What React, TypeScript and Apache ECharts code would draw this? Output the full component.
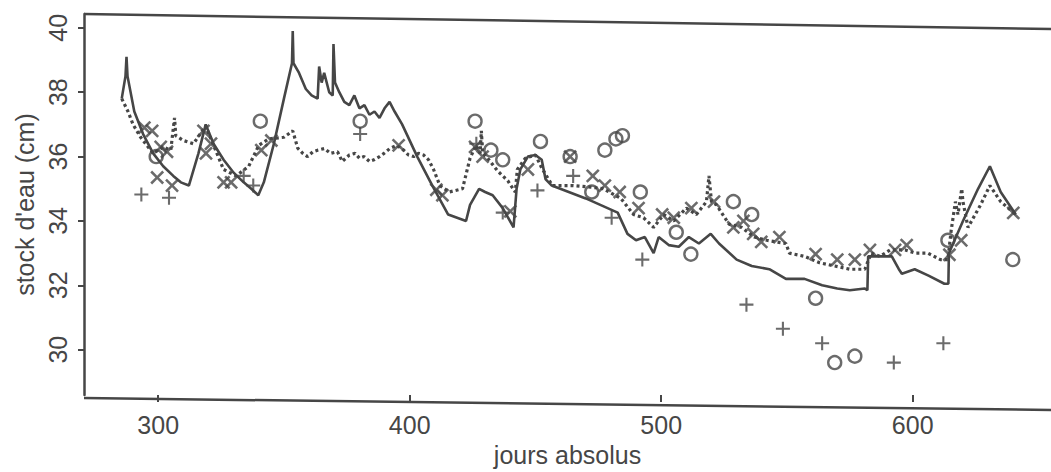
import React, { useEffect, useRef } from "react";
import * as echarts from "echarts";

// Axis ticks
const xTicks = [300, 400, 500, 600];
const yTicks = [30, 32, 34, 36, 38, 40];

// Simulated water stock, model A (solid) — [day, cm]
const solidLine: [number, number][] = [
  [285.5, 37.8], [287.0, 38.5], [287.4, 39.1], [287.8, 38.5], [290.5, 37.4], [294, 36.7],
  [298, 36.1], [302, 35.7], [306, 35.4], [309, 35.2], [312.2, 35.1], [316, 36.1], [318.9, 37.0],
  [322, 36.4], [326, 35.9], [330, 35.5], [334, 35.2], [337, 35.0], [339.8, 34.8], [342, 35.2],
  [346, 36.4], [350, 37.8], [353.2, 38.9], [353.5, 39.9], [353.8, 38.9], [356, 38.6],
  [358.7, 38.1], [361, 37.9], [363.4, 37.8], [364, 38.8], [365, 38.3], [366, 38.6], [368, 38.0],
  [369.4, 37.9], [369.7, 39.5], [370.3, 38.3], [372, 38.0], [374, 37.7], [376, 37.6], [378, 37.9],
  [380, 37.5], [382, 37.6], [384, 37.3], [386, 37.4], [388, 37.2], [390, 37.5], [392, 37.7],
  [394, 37.4], [397, 37.0], [403, 36.0], [409, 35.1], [415.3, 34.2], [422.4, 34.0], [424, 34.5],
  [427.6, 35.0], [430, 34.9], [433, 34.8], [437, 34.4], [441.3, 33.8], [442.5, 35.0], [444, 35.6],
  [447, 36.0], [450, 36.05], [452.5, 35.9], [454, 35.3], [456.5, 35.1], [470, 34.7],
  [482.7, 34.26], [486.6, 33.6], [490, 33.4], [493.5, 33.5], [497, 33.0], [499, 33.5],
  [503, 33.25], [507, 33.2], [511, 33.5], [515, 33.3], [519.7, 33.6], [523, 33.3], [530, 32.8],
  [536, 32.6], [543, 32.5], [549.6, 32.2], [557, 32.2], [564, 32.0], [570, 31.9], [575, 31.85],
  [581, 31.9], [582, 31.85], [582.3, 32.9], [587, 32.9], [591.7, 32.9], [594.5, 32.5],
  [595.7, 32.36], [600.8, 32.5], [606.3, 32.3], [612.6, 32.05], [614.2, 32.05], [614.4, 33.0],
  [620, 34.0], [626, 35.0], [630.7, 35.7], [635, 34.9], [641, 34.2],
];

// Simulated water stock, model B (dotted) — [day, cm]
const dottedLine: [number, number][] = [
  [285.5, 37.8], [288, 37.4], [290, 37.0], [293, 36.6], [296, 36.3], [298, 36.1], [302, 36.3],
  [305, 36.2], [306.5, 37.2], [307, 36.65], [310, 36.5], [314, 36.4], [318.9, 36.95], [322, 36.35],
  [326, 35.6], [331, 35.4], [336, 35.7], [340, 36.35], [344, 36.55], [350, 36.6], [353.5, 36.8],
  [355.5, 36.26], [357.5, 36.1], [359.4, 36.0], [361.5, 36.15], [363.4, 36.2], [366.1, 36.25],
  [368.5, 36.1], [371.3, 36.15], [373.2, 35.85], [376, 36.05], [378.3, 36.1], [380, 35.95],
  [381.9, 36.0], [384, 35.85], [385.8, 35.9], [388, 36.0], [389.8, 36.1], [392.1, 36.25],
  [394.9, 36.35], [397.6, 36.2], [399.5, 36.05], [401.6, 36.0], [403.5, 36.1], [405.5, 36.05],
  [407.5, 35.9], [409.5, 35.6], [412, 35.1], [415.7, 34.9], [421, 35.0], [424, 35.95],
  [426.4, 36.35], [428, 36.1], [428.5, 36.8], [429, 36.1], [431, 35.95], [435, 35.55],
  [439, 35.25], [442, 34.9], [442.8, 35.6], [446, 35.95], [450, 36.05], [452.5, 35.65],
  [456.7, 35.1], [465, 35.1], [472, 35.05], [477, 35.0], [484, 34.7], [489, 34.2], [493, 34.1],
  [497, 33.8], [501, 34.2], [505, 34.0], [510, 34.4], [514, 34.2], [518, 34.6], [519, 35.4],
  [520, 34.6], [522, 34.5], [527, 33.9], [532, 33.8], [537, 33.5], [542, 33.4], [549.6, 33.3],
  [551, 33.0], [557, 32.9], [563, 32.7], [569, 32.6], [575, 32.5], [581, 32.5], [583.5, 33.0],
  [587, 32.9], [591, 33.1], [597, 33.1], [601, 33.0], [606, 33.0], [611, 32.8], [614, 32.8],
  [615.3, 33.7], [617, 34.6], [618, 34.2], [619.5, 35.0], [620, 34.6], [622, 33.8], [627, 34.5],
  [630.7, 35.1], [635, 34.6], [641, 34.2],
];

// Field measurements, three probe sites
const plusObs: [number, number][] = [
  [293.3, 34.82], [304.3, 34.72], [334, 35.4], [337.8, 35.1], [380.3, 36.7], [426.5, 36.4],
  [437, 34.26], [450.8, 34.95], [465, 35.4], [480.3, 34.1], [492.5, 32.8], [533.9, 31.4],
  [548.4, 30.65], [564, 30.2], [592.5, 29.6], [612.2, 30.2],
];

const crossObs: [number, number][] = [
  [294.5, 36.9], [297.6, 36.8], [299.6, 35.35], [301, 36.3], [303.5, 36.15], [305.5, 35.1],
  [318, 36.8], [319, 36.1], [321, 36.4], [326, 35.2], [329, 35.2], [341, 36.2], [345, 36.5],
  [395.6, 36.35], [410.6, 34.97], [413, 34.8], [426, 36.3], [429, 36.0], [440, 34.3], [447, 35.6],
  [463.8, 36.0], [472.8, 35.4], [477.6, 35.1], [483.5, 34.9], [491, 34.4], [500.4, 34.2],
  [505, 34.1], [512, 34.4], [521, 34.6], [528.7, 33.8], [532.7, 34.0], [536.6, 33.6],
  [539.8, 33.35], [547, 33.5], [561.4, 32.97], [570, 32.8], [577, 32.8], [583, 33.1], [593, 33.1],
  [597.6, 33.25], [614.6, 32.95], [619.3, 33.4], [640, 34.25],
];

const circleObs: [number, number][] = [
  [299.2, 36.0], [340.6, 37.1], [380.3, 37.1], [426, 37.1], [432.3, 36.2], [437, 35.9],
  [452, 36.47], [463.8, 36.0], [472.4, 34.9], [477.6, 36.2], [482, 36.55], [484.6, 36.65],
  [491.7, 34.9], [506, 33.65], [511.8, 32.97], [528.7, 34.6], [536, 34.2], [561.4, 31.6],
  [569, 29.6], [577, 29.8], [614, 33.4], [639.8, 32.8],
];

const INK = "#464646";
const FONT = "'Liberation Sans', Arial, Helvetica, sans-serif";
const PLUS =
  "path://M-0.15,-1 L0.15,-1 L0.15,-0.15 L1,-0.15 L1,0.15 L0.15,0.15 L0.15,1 L-0.15,1 L-0.15,0.15 L-1,0.15 L-1,-0.15 L-0.15,-0.15 Z";

export default function App() {
  const ref = useRef<HTMLDivElement>(null);

  useEffect(() => {
    const chart = echarts.init(ref.current!, null, { renderer: "svg" });
    const text = { fontFamily: FONT, fontSize: 25, color: INK };
    chart.setOption({
      animation: false,
      backgroundColor: "#ffffff",
      grid: { left: 84, right: -10, top: 14, bottom: 72 },
      xAxis: {
        type: "value",
        min: 270.5,
        max: 655,
        name: "jours absolus",
        nameLocation: "middle",
        nameGap: 46,
        nameTextStyle: text,
        axisLine: { show: false },
        axisTick: { show: true, length: 7, lineStyle: { color: INK, width: 2 }, customValues: xTicks },
        axisLabel: { ...text, margin: 17, customValues: xTicks },
        splitLine: { show: false },
      },
      yAxis: {
        type: "value",
        min: 28.59,
        max: 40.43,
        name: "stock d'eau (cm)",
        nameLocation: "middle",
        nameGap: 46,
        nameTextStyle: text,
        axisLine: { show: true, lineStyle: { color: INK, width: 2.5 } },
        axisTick: { show: true, length: 6, lineStyle: { color: INK, width: 2 }, customValues: yTicks },
        axisLabel: { ...text, rotate: 90, margin: 14, customValues: yTicks },
        splitLine: { show: false },
      },
      graphic: [
        {
          type: "polyline",
          silent: true,
          shape: { points: [[84, 14], [1051, 29]] },
          style: { stroke: INK, lineWidth: 2.5, fill: "none" },
        },
        {
          type: "polyline",
          silent: true,
          shape: { points: [[84, 398], [1051, 410]] },
          style: { stroke: INK, lineWidth: 2.5, fill: "none" },
        },
      ],
      series: [
        {
          type: "line",
          data: solidLine,
          showSymbol: false,
          lineStyle: { color: INK, width: 2.6 },
          z: 3,
        },
        {
          type: "line",
          data: dottedLine,
          showSymbol: false,
          lineStyle: { color: INK, width: 3.2, type: [3, 3] },
          z: 3,
        },
        {
          type: "scatter",
          data: plusObs,
          symbol: PLUS,
          symbolSize: 14,
          itemStyle: { color: INK },
          z: 4,
        },
        {
          type: "scatter",
          data: crossObs,
          symbol: PLUS,
          symbolSize: 17,
          symbolRotate: 45,
          itemStyle: { color: INK },
          z: 4,
        },
        {
          type: "scatter",
          data: circleObs,
          symbol: "circle",
          symbolSize: 13,
          itemStyle: { color: "transparent", borderColor: INK, borderWidth: 2.4 },
          z: 4,
        },
      ],
    });
    return () => chart.dispose();
  }, []);

  return (
    <div
      ref={ref}
      style={{ position: "fixed", left: 0, top: 0, width: 1051, height: 472, background: "#fff" }}
    />
  );
}
